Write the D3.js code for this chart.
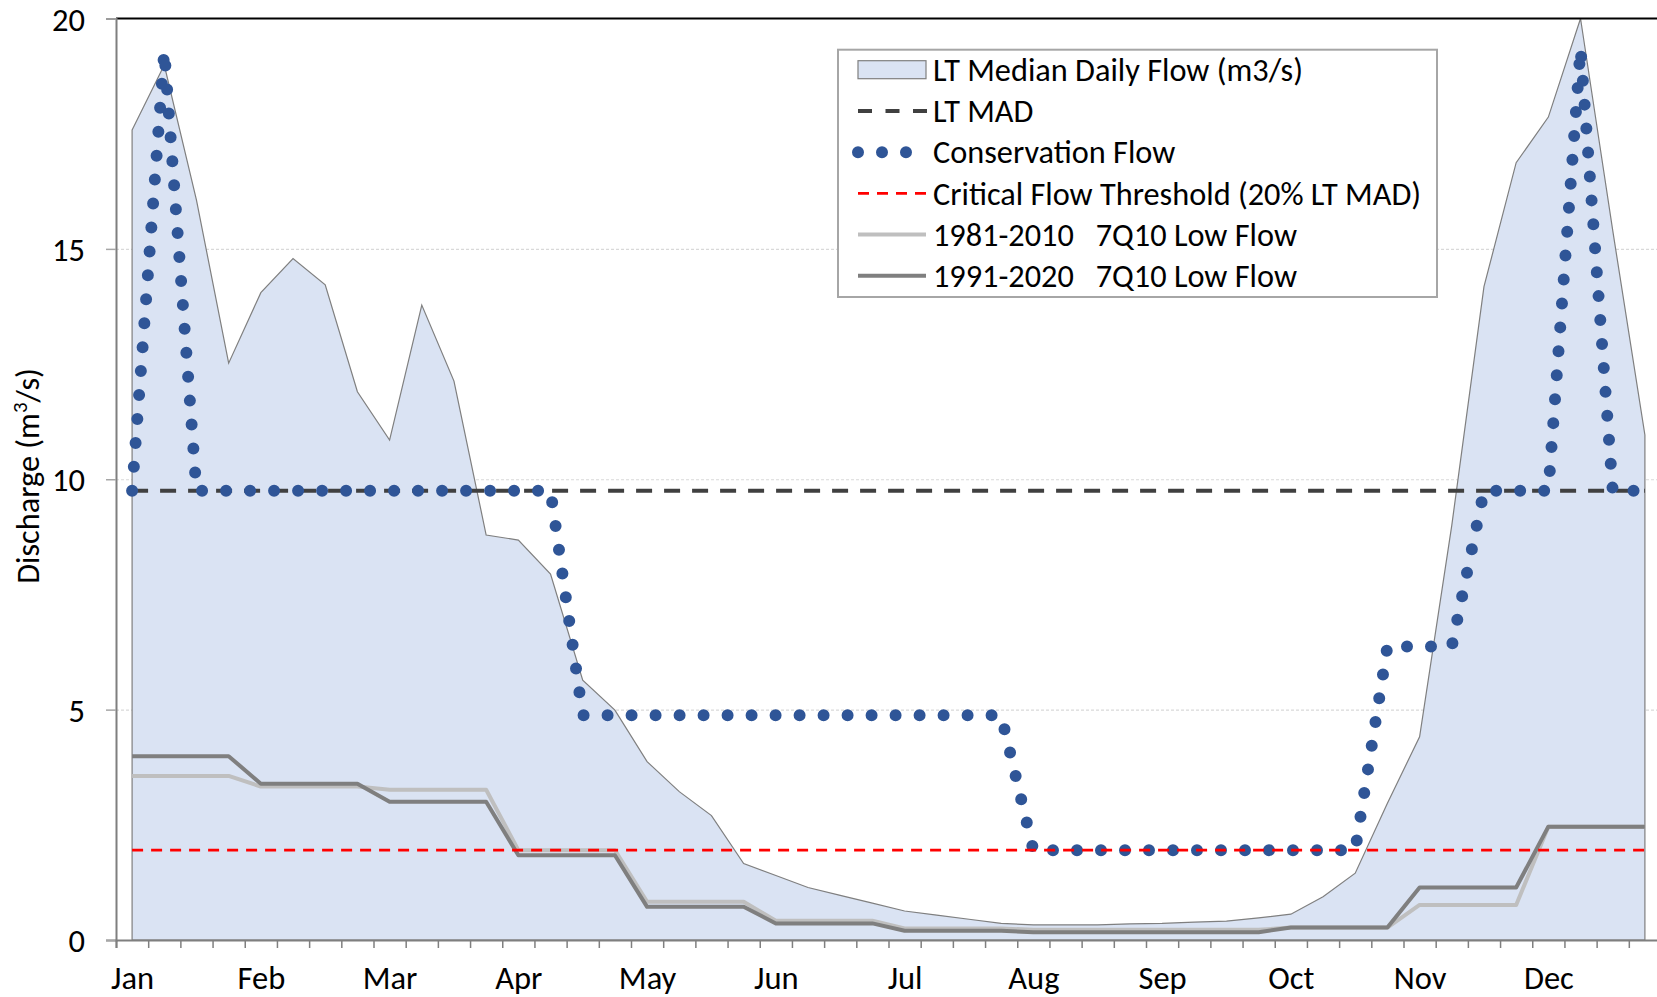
<!DOCTYPE html>
<html>
<head>
<meta charset="utf-8">
<script src="https://cdn.jsdelivr.net/npm/d3@7"></script>
<style>
  html, body { margin: 0; padding: 0; background: #ffffff; }
  svg { display: block; }
  text { font-family: Calibri, Carlito, Lato, sans-serif; fill: #000; }
</style>
</head>
<body>
<svg id="chart" width="1657" height="997"></svg>
<script>
// Month labels (one label every 4 weekly categories)
const months = ["Jan", "Feb", "Mar", "Apr", "May", "Jun", "Jul", "Aug", "Sep", "Oct", "Nov", "Dec"];

// 48 quarter-month categories
const categories = d3.range(48);

// Long-term median daily flow (m3/s)
const medianFlow = [
  17.58, 18.99, 16.06, 12.52, 14.05, 14.79, 14.22, 11.90,
  10.85, 13.78, 12.13, 8.79, 8.68, 7.94, 5.64, 4.99,
  3.87, 3.22, 2.70, 1.66, 1.40, 1.14, 0.97, 0.80,
  0.63, 0.54, 0.45, 0.36, 0.33, 0.33, 0.33, 0.35,
  0.36, 0.39, 0.41, 0.48, 0.56, 0.94, 1.45, 2.97,
  4.41, 9.00, 14.18, 16.87, 17.86, 20.00, 15.40, 10.96
];

// Long-term mean annual discharge
const ltMAD = 9.75;
// Critical flow threshold = 20% of LT MAD
const criticalFlow = 1.95;

// Conservation flow regime (m3/s)
const conservationFlow = [
  9.75, 19.30, 9.75, 9.75, 9.75, 9.75, 9.75, 9.75,
  9.75, 9.75, 9.75, 9.75, 9.75, 9.75, 4.88, 4.88,
  4.88, 4.88, 4.88, 4.88, 4.88, 4.88, 4.88, 4.88,
  4.88, 4.88, 4.88, 4.88, 1.95, 1.95, 1.95, 1.95,
  1.95, 1.95, 1.95, 1.95, 1.95, 1.95, 1.95, 6.37,
  6.37, 6.37, 9.75, 9.75, 9.75, 19.35, 9.75, 9.75
];

// 7Q10 low flow, 1981-2010 normals
const lowFlow8110 = [
  3.56, 3.56, 3.56, 3.56, 3.33, 3.33, 3.33, 3.33,
  3.26, 3.26, 3.26, 3.26, 1.95, 1.95, 1.95, 1.95,
  0.83, 0.83, 0.83, 0.83, 0.42, 0.42, 0.42, 0.42,
  0.25, 0.25, 0.25, 0.25, 0.22, 0.22, 0.22, 0.22,
  0.22, 0.22, 0.22, 0.22, 0.27, 0.27, 0.27, 0.27,
  0.76, 0.76, 0.76, 0.76, 2.46, 2.46, 2.46, 2.46
];

// 7Q10 low flow, 1991-2020 normals
const lowFlow9120 = [
  3.99, 3.99, 3.99, 3.99, 3.39, 3.39, 3.39, 3.39,
  3.00, 3.00, 3.00, 3.00, 1.84, 1.84, 1.84, 1.84,
  0.72, 0.72, 0.72, 0.72, 0.36, 0.36, 0.36, 0.36,
  0.20, 0.20, 0.20, 0.20, 0.17, 0.17, 0.17, 0.17,
  0.17, 0.17, 0.17, 0.17, 0.27, 0.27, 0.27, 0.27,
  1.14, 1.14, 1.14, 1.14, 2.46, 2.46, 2.46, 2.46
];

const yTicks = [0, 5, 10, 15, 20];
const gridTicks = [5, 10, 15];

const legendItems = [
  { label: "LT Median Daily Flow (m3/s)", kind: "area" },
  { label: "LT MAD", kind: "mad" },
  { label: "Conservation Flow", kind: "cons" },
  { label: "Critical Flow Threshold (20% LT MAD)", kind: "crit" },
  { label: "1981-2010   7Q10 Low Flow", kind: "low1" },
  { label: "1991-2020   7Q10 Low Flow", kind: "low2" }
];

const W = 1657, H = 997;
const plot = { left: 116, right: 1661, top: 18.5, bottom: 940 };
const TICK_FONT = 32.5;
const LEGEND_FONT = 32.3;
const TITLE_FONT = 32.3;

const svg = d3.select("#chart");

// Category boundaries (ticks) and centres (data points)
const xb = d3.scaleLinear().domain([0, categories.length]).range([plot.left, plot.right]);
const x = i => xb(i + 0.5);
const y = d3.scaleLinear().domain([0, 20]).range([plot.bottom, plot.top]);

svg.append("clipPath").attr("id", "plotClip")
  .append("rect").attr("x", plot.left).attr("y", plot.top - 2)
  .attr("width", plot.right - plot.left).attr("height", plot.bottom - plot.top + 2);

// Horizontal gridlines
svg.append("g")
  .attr("transform", `translate(${plot.left},0)`)
  .call(d3.axisLeft(y).tickValues(gridTicks).tickSize(-(W - plot.left)).tickFormat(""))
  .call(g => g.select(".domain").remove())
  .call(g => g.selectAll("line").attr("stroke", "#d9d9d9").attr("stroke-width", 1.2)
    .attr("stroke-dasharray", "3 2"));

const chart = svg.append("g").attr("clip-path", "url(#plotClip)");

// Median daily flow area
chart.append("path")
  .datum(medianFlow)
  .attr("d", d3.area().x((d, i) => x(i)).y0(y(0)).y1(d => y(d)))
  .attr("fill", "#dae3f3")
  .attr("stroke", "#7f7f7f")
  .attr("stroke-width", 1.2);

const line = d3.line().x((d, i) => x(i)).y(d => y(d));

// 7Q10 low flows
chart.append("path").datum(lowFlow8110).attr("d", line)
  .attr("fill", "none").attr("stroke", "#bfbfbf").attr("stroke-width", 4)
  .attr("stroke-linejoin", "round");
chart.append("path").datum(lowFlow9120).attr("d", line)
  .attr("fill", "none").attr("stroke", "#7f7f7f").attr("stroke-width", 4)
  .attr("stroke-linejoin", "round");

// LT MAD
chart.append("path").datum(categories.map(() => ltMAD)).attr("d", line)
  .attr("fill", "none").attr("stroke", "#404040").attr("stroke-width", 4)
  .attr("stroke-dasharray", "16 12");

// Conservation flow (round dots)
chart.append("path").datum(conservationFlow).attr("d", line)
  .attr("fill", "none").attr("stroke", "#2f5597").attr("stroke-width", 12)
  .attr("stroke-linecap", "round").attr("stroke-dasharray", "0 24");

// Critical flow threshold
chart.append("path").datum(categories.map(() => criticalFlow)).attr("d", line)
  .attr("fill", "none").attr("stroke", "#ff0000").attr("stroke-width", 2.75)
  .attr("stroke-dasharray", "11 8");

// Top border
svg.append("line")
  .attr("x1", plot.left).attr("x2", W).attr("y1", plot.top).attr("y2", plot.top)
  .attr("stroke", "#000").attr("stroke-width", 2);

// Y axis
svg.append("g")
  .attr("transform", `translate(${plot.left},0)`)
  .call(d3.axisLeft(y).tickValues(yTicks).tickSize(10).tickPadding(21))
  .call(g => g.select(".domain").attr("stroke", "#7f7f7f").attr("stroke-width", 2))
  .call(g => g.selectAll(".tick line").attr("stroke", "#a6a6a6").attr("stroke-width", 1.5))
  .call(g => g.selectAll(".tick text").attr("font-size", TICK_FONT).attr("font-family", null)
    .attr("dy", "0.36em").attr("fill", "#000"));

// X axis: ticks at category boundaries
svg.append("g")
  .attr("transform", `translate(0,${plot.bottom})`)
  .call(d3.axisBottom(xb).tickValues(d3.range(0, categories.length + 1)).tickSize(8).tickFormat(""))
  .call(g => g.select(".domain").attr("stroke", "#7f7f7f").attr("stroke-width", 2))
  .call(g => g.selectAll(".tick line").attr("stroke", "#7f7f7f").attr("stroke-width", 1.5));

// X axis: month labels centred on the first category of each month
svg.append("g")
  .attr("transform", `translate(0,${plot.bottom})`)
  .call(d3.axisBottom(xb).tickValues(months.map((m, k) => 4 * k + 0.5)).tickSize(0)
    .tickFormat((d, k) => months[k]))
  .call(g => g.select(".domain").remove())
  .call(g => g.selectAll(".tick text").attr("font-size", TICK_FONT).attr("font-family", null)
    .attr("y", 49).attr("dy", 0).attr("fill", "#000"));

// Y axis title
const title = svg.append("text")
  .attr("transform", "translate(39,476) rotate(-90)")
  .attr("text-anchor", "middle")
  .attr("font-size", TITLE_FONT);
title.append("tspan").text("Discharge (m");
title.append("tspan").text("3").attr("font-size", TITLE_FONT * 0.65).attr("dy", -TITLE_FONT * 0.38);
title.append("tspan").text("/s)").attr("dy", TITLE_FONT * 0.38);

// Legend
const lg = svg.append("g");
lg.append("rect")
  .attr("x", 838).attr("y", 49.7).attr("width", 599).attr("height", 247.3)
  .attr("fill", "#fff").attr("stroke", "#a6a6a6").attr("stroke-width", 2);

const rowY = d3.scaleLinear().domain([0, legendItems.length - 1]).range([69.7, 275.8]);
const symX0 = 858, symX1 = 926;

legendItems.forEach((item, k) => {
  const cy = rowY(k);
  const g = lg.append("g");
  if (item.kind === "area") {
    g.append("rect").attr("x", symX0).attr("y", cy - 9).attr("width", symX1 - symX0).attr("height", 18)
      .attr("fill", "#dae3f3").attr("stroke", "#7f7f7f").attr("stroke-width", 1.2);
  } else if (item.kind === "mad") {
    g.append("line").attr("x1", symX0).attr("x2", symX1 + 1).attr("y1", cy).attr("y2", cy)
      .attr("stroke", "#404040").attr("stroke-width", 4).attr("stroke-dasharray", "14 13.5");
  } else if (item.kind === "cons") {
    g.append("line").attr("x1", symX0).attr("x2", symX1).attr("y1", cy).attr("y2", cy)
      .attr("stroke", "#2f5597").attr("stroke-width", 12).attr("stroke-linecap", "round")
      .attr("stroke-dasharray", "0 24");
  } else if (item.kind === "crit") {
    g.append("line").attr("x1", symX0).attr("x2", symX1).attr("y1", cy).attr("y2", cy)
      .attr("stroke", "#ff0000").attr("stroke-width", 2.75).attr("stroke-dasharray", "11 8");
  } else {
    g.append("line").attr("x1", symX0).attr("x2", symX1).attr("y1", cy).attr("y2", cy)
      .attr("stroke", item.kind === "low1" ? "#bfbfbf" : "#7f7f7f").attr("stroke-width", 4);
  }
  g.append("text").attr("x", 933).attr("y", cy).attr("dy", "0.35em")
    .attr("font-size", LEGEND_FONT).style("white-space", "pre").text(item.label);
});
</script>
</body>
</html>
